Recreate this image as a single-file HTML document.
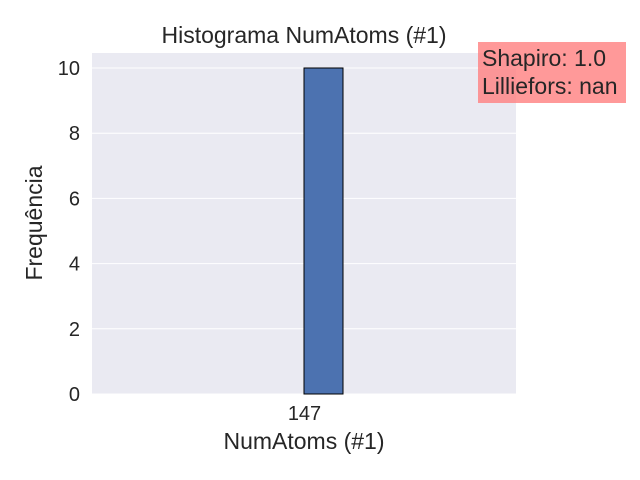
<!DOCTYPE html>
<html><head><meta charset="utf-8"><style>
body{margin:0;background:#fff;}
svg{display:block;font-family:"Liberation Sans","DejaVu Sans",sans-serif;}
</style></head><body>
<svg id="chart" width="640" height="480">
<rect x="92" y="53" width="424" height="341" fill="#eaeaf2"/>
<g id="grid"></g>
<g id="bars"></g>
<g id="yticks"></g>
<g id="xticks"></g>
<text x="304" y="43" font-size="23" text-anchor="middle" fill="#262626">Histograma NumAtoms (#1)</text>
<text x="304" y="449" font-size="23" text-anchor="middle" fill="#262626">NumAtoms (#1)</text>
<text transform="translate(42,223) rotate(-90)" font-size="23" text-anchor="middle" fill="#262626">Frequência</text>
<g>
<rect x="478" y="42" width="148" height="61" fill="#ff8080" fill-opacity="0.8"/>
<text x="482" y="66" font-size="23" fill="#262626">Shapiro: 1.0</text>
<text x="482" y="94" font-size="23" fill="#262626">Lilliefors: nan</text>
</g>
</svg>
<script>
const categories=["147"];
const counts=[10];
const yTicks=[0,2,4,6,8,10];
const ns="http://www.w3.org/2000/svg";
const y0=394,yPer=32.6;
function yScale(v){return y0-v*yPer;}
const binCenter=323.5,binW=39;
function xScale(i){return binCenter+(i-(categories.length-1)/2)*binW;}
const grid=document.getElementById('grid'),yt=document.getElementById('yticks');
yTicks.forEach(t=>{
 const l=document.createElementNS(ns,'line');
 l.setAttribute('x1',92);l.setAttribute('x2',516);
 l.setAttribute('y1',yScale(t));l.setAttribute('y2',yScale(t));
 l.setAttribute('stroke','#fff');l.setAttribute('stroke-width','1');
 
 
 grid.appendChild(l);
 const tx=document.createElementNS(ns,'text');
 tx.setAttribute('x',80);tx.setAttribute('y',yScale(t)+7);
 tx.setAttribute('text-anchor','end');tx.setAttribute('font-size','20');tx.setAttribute('fill','#262626');
 tx.textContent=t;
 
 
 yt.appendChild(tx);
});
const bars=document.getElementById('bars'),xt=document.getElementById('xticks');
counts.forEach((c,i)=>{
 const r=document.createElementNS(ns,'rect');
 const cx=xScale(i);
 r.setAttribute('x',cx-binW/2);r.setAttribute('width',binW);
 r.setAttribute('y',yScale(c));r.setAttribute('height',y0-yScale(c));
 r.setAttribute('fill','#4c72b0');r.setAttribute('stroke','#000');r.setAttribute('stroke-width','1');
 
 
 bars.appendChild(r);
 const tx=document.createElementNS(ns,'text');
 tx.setAttribute('x',cx-19);tx.setAttribute('y',420);
 tx.setAttribute('text-anchor','middle');tx.setAttribute('font-size','20');tx.setAttribute('fill','#262626');
 tx.textContent=categories[i];
 
 
 xt.appendChild(tx);
});
</script>
</body></html>
